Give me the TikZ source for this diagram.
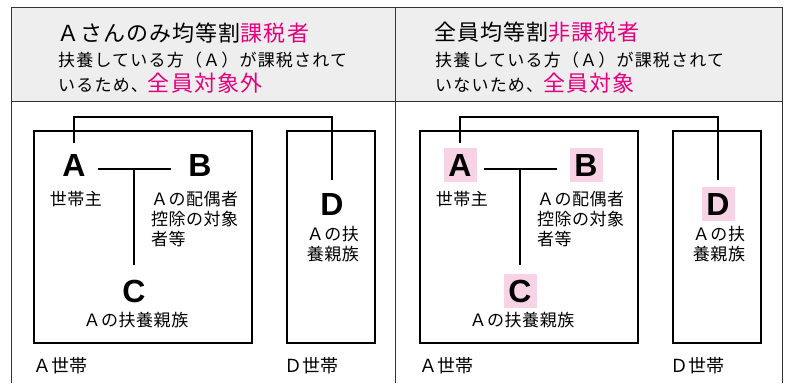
\documentclass[tikz,border=0pt]{standalone}
\usepackage{fontspec}
\newfontfamily\jp{Noto Sans CJK JP}
\newfontfamily\jpls{Noto Sans CJK JP}[LetterSpace=3]
\newfontfamily\jpbody{Noto Sans CJK JP}[LetterSpace=7]
\newfontfamily\jptitle{Noto Sans CJK JP}[LetterSpace=5]
\newfontfamily\lat{Liberation Sans}
\definecolor{mag}{HTML}{E4007F}
\definecolor{hl}{HTML}{F8D3E5}
\definecolor{hdr}{HTML}{EEEEEE}
\definecolor{tabline}{HTML}{333333}
\tikzset{
  letternode/.style={font=\lat\bfseries\fontsize{32}{32}\selectfont, minimum width=33pt, minimum height=34pt, inner sep=0pt, text height=23pt, text depth=0pt},
  plainletter/.style={letternode},
  pinkletter/.style={letternode, fill=hl},
  lbl/.style={font=\jpls\fontsize{17}{20}\selectfont, inner sep=0pt, align=center},
  hh/.style={font=\jp\fontsize{18}{18}\selectfont, inner sep=0pt},
  boxframe/.style={draw=black, line width=1.5pt},
  conn/.style={draw=black, line width=1.6pt},
  tab/.style={draw=tabline, line width=1pt},
  titletext/.style={font=\jptitle\fontsize{22}{24}\selectfont, inner sep=0pt, anchor=west},
  bodytext/.style={font=\jpbody\fontsize{17}{20}\selectfont, inner sep=0pt, anchor=west},
}
\newcommand\familypanel[3]{%
\begin{scope}[xshift=#1]
  \draw[boxframe] (34,131) rectangle (252,343);
  \draw[boxframe] (287,131) rectangle (375,343);
  \node[#3] (#2A) at (74,165) {A};
  \node[#3] (#2B) at (200,165) {B};
  \node[#3] (#2C) at (134,291) {C};
  \node[#3] (#2D) at (332,204) {D};
  \coordinate (#2top) at (0,117);
  \coordinate (#2mid) at (0,169);
  \draw[conn] ([yshift=5pt]#2A.north) -- (#2A.north |- #2top) -- (#2D.north |- #2top) -- ([yshift=7pt]#2D.north);
  \draw[conn] ([xshift=7pt]#2A.east |- #2mid) -- ([xshift=-12pt]#2B.west |- #2mid);
  \draw[conn] (#2C.north |- #2mid) -- ([yshift=9pt]#2C.north);
  \node[lbl] (#2Al) at (76,199) {世帯主};
  \node[lbl, anchor=west, align=left] (#2Bl) at (151,219) {Ａの配偶者\\控除の対象\\者等};
  \node[lbl] (#2Cl) at (136,320) {Ａの扶養親族};
  \node[lbl] (#2Dl) at (333,244.5) {Ａの扶\\養親族};
  \node[hh, anchor=west] (#2Ah) at (33,366) {Ａ世帯};
  \node[hh, anchor=west] (#2Dh) at (284,366) {Ｄ世帯};
\end{scope}}
\begin{document}
\begin{tikzpicture}[x=1pt,y=-1pt]
\useasboundingbox (0,0) rectangle (790,383);
\fill[white] (0,0) rectangle (790,383);
\fill[hdr] (11,7) rectangle (782,101);
\draw[tab] (11,383) -- (11,7) -- (782,7) -- (782,383);
\draw[tab] (11,101) -- (782,101);
\draw[tab] (395,7) -- (395,383);
% headers
\node[titletext] (lt1) at (57,33) {Ａさんのみ均等割\textcolor{mag}{課税者}};
\node[bodytext] (lt2) at (58,60) {扶養している方（Ａ）が課税されて};
\node[bodytext] (lt3) at (58,83) {いるため、\textcolor{mag}{\jptitle\fontsize{22}{24}\selectfont 全員対象外}};
\node[titletext] (rt1) at (434,32) {全員均等割\textcolor{mag}{非課税者}};
\node[bodytext] (rt2) at (435,60) {扶養している方（Ａ）が課税されて};
\node[bodytext] (rt3) at (435,83) {いないため、\textcolor{mag}{\jptitle\fontsize{22}{24}\selectfont 全員対象}};
\familypanel{0pt}{L}{plainletter}
\familypanel{386pt}{R}{pinkletter}
\end{tikzpicture}
\end{document}
